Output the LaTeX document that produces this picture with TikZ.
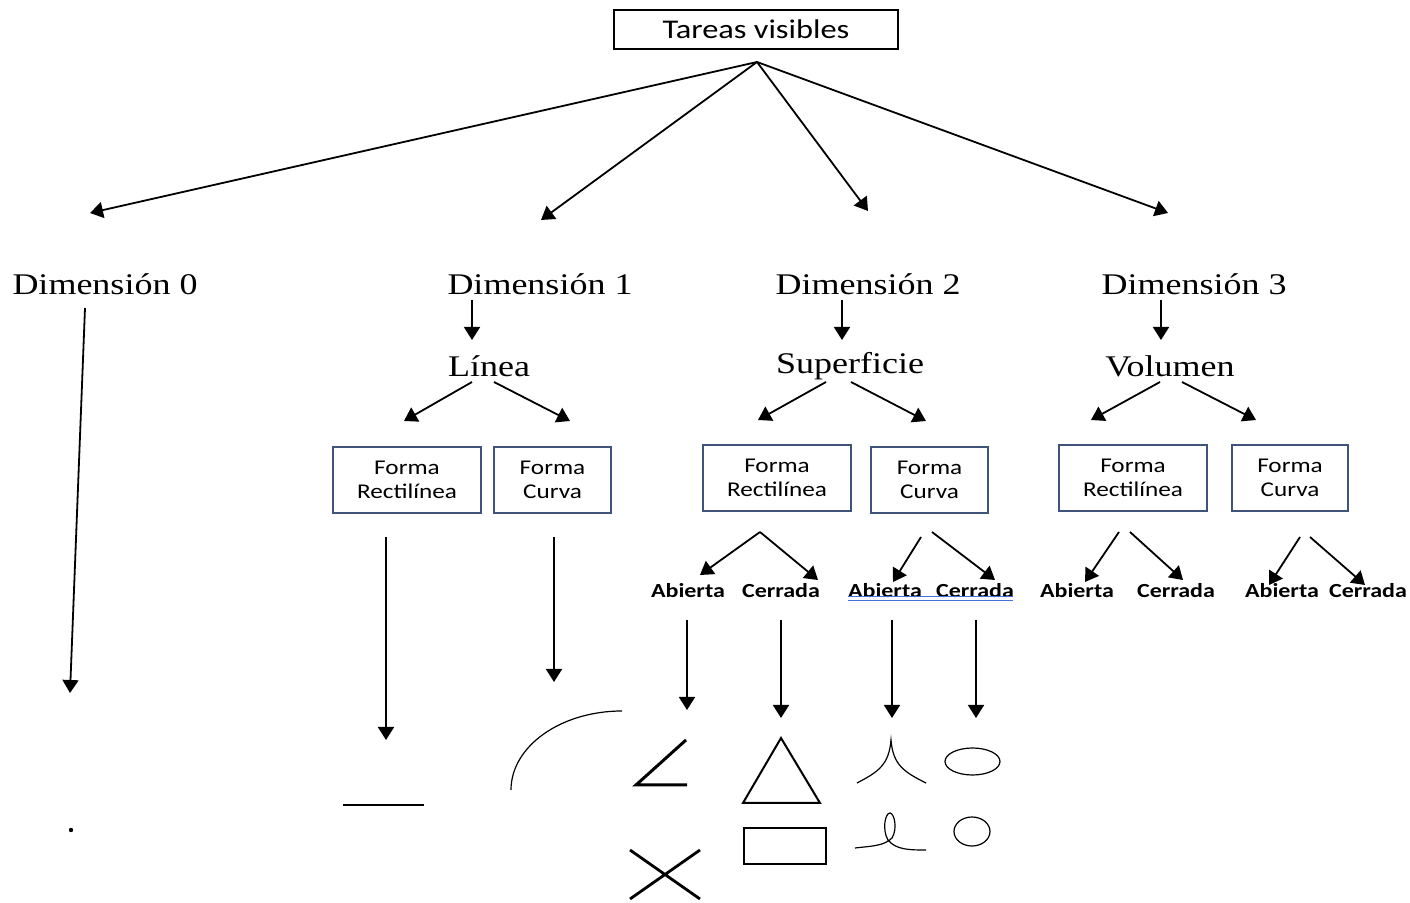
\documentclass[tikz,border=0pt]{standalone}
\usepackage{fontspec}
\setmainfont{Liberation Serif}[FakeStretch=1.2]
\newfontfamily\boxfont{Carlito}[FakeStretch=1.2]
\usepackage{tikz}
\usetikzlibrary{arrows.meta}
\definecolor{formnavy}{RGB}{62,84,122}
\definecolor{wordblue}{RGB}{66,110,222}

\begin{document}
\begin{tikzpicture}[x=0.5pt,y=-0.5pt,
  arr/.style={-{Triangle[length=6.5pt,width=8pt]},line width=0.9pt},
  dimlbl/.style={font=\fontsize{15}{18}\selectfont,inner sep=1pt},
  topbox/.style={draw,line width=0.8pt,minimum width=142pt,minimum height=19.5pt,font=\boxfont\fontsize{13.5}{16}\selectfont},
  formbox/.style={draw=formnavy,line width=0.8pt,align=center,minimum height=33pt,font=\boxfont\fontsize{10.5}{12}\selectfont},
  kindlbl/.style={font=\boxfont\bfseries\fontsize{10}{12}\selectfont,inner sep=1pt}]
\useasboundingbox (0,0) rectangle (1410,903);
\node[topbox] (tareas) at (756,29.5) {Tareas visibles};
\coordinate (apex) at (757,62);
\foreach \n/\x in {0/105,1/540,2/868,3/1194}
  \node[dimlbl] (dim\n) at (\x,284) {Dimensión \n};
\foreach \n/\x/\y in {0/90/213,1/541/220,2/868/211,3/1168/213}{
  \coordinate (fan\n) at (\x,\y);
  \draw[arr] (apex) -- (fan\n);}
\node[dimlbl] (linea) at (489,366) {Línea};
\node[dimlbl] (superficie) at (850,366) {Superficie};
\node[dimlbl] (volumen) at (1170,366) {Volumen};
\foreach \nm/\x/\y/\w/\t in {%
  lrect/407/480/74/{Forma\\Rectilínea},
  lcurv/552.5/480/58.5/{Forma\\Curva},
  srect/777/478/74/{Forma\\Rectilínea},
  scurv/929.5/480/58.5/{Forma\\Curva},
  vrect/1133/478/74/{Forma\\Rectilínea},
  vcurv/1290/478/58/{Forma\\Curva}}
  \node[formbox,minimum width=\w pt] (\nm) at (\x,\y) {\t};
\foreach \nm/\x/\t in {sabi/688/Abierta,scer/781/Cerrada,cabi/885/Abierta,ccer/975/Cerrada,
                       vabi/1077/Abierta,vcer/1176/Cerrada,wabi/1282/Abierta,wcer/1368/Cerrada}
  \node[kindlbl] (\nm) at (\x,591) {\t};
\draw[wordblue,line width=0.5pt] (848,597) -- (1013,597) (848,600.5) -- (1013,600.5);
\foreach \i/\s/\e in {%
  1/{85,308}/{70,693},
  2/{472,300}/{472,340}, 3/{842,300}/{842,340}, 4/{1161,300}/{1161,340},
  5/{472,382}/{404,421}, 6/{494,382}/{570,421},
  7/{826,382}/{758,420}, 8/{851,382}/{926,421},
  9/{1160,382}/{1091,420}, 10/{1182,382}/{1256,420},
  11/{386,537}/{386,740}, 12/{554,537}/{554,682},
  13/{760,532}/{700,575}, 14/{760,532}/{818,580},
  15/{921,537}/{893,582}, 16/{932,532}/{995,580},
  17/{1119,532}/{1085,582}, 18/{1130,532}/{1183,580},
  19/{1300,537}/{1269,585}, 20/{1310,537}/{1365,585},
  21/{687,620}/{687,710}, 22/{781,620}/{781,718},
  23/{892,620}/{892,718}, 24/{976,620}/{976,718}}{
  \coordinate (from\i) at (\s);
  \coordinate (to\i) at (\e);
  \draw[arr] (from\i) -- (to\i);}
\fill (71,830) circle (1.1pt);
\draw[line width=0.9pt] (343,805) -- (424,805);
\draw[line width=0.6pt] (511,790) arc[start angle=180,end angle=90,x radius=55.5pt,y radius=39.5pt];
\draw[line width=1.5pt,line join=miter] (686,740) -- (636,785) -- (687,785);
\draw[line width=1pt] (781,738) -- (820,803) -- (743,803) -- cycle;
\draw[line width=1.4pt] (630,850) -- (700,899) (630,899) -- (700,850);
\draw[line width=1pt] (744,828) rectangle (826,864);
\draw[line width=0.6pt] (857,783) .. controls (878,772) and (889,765) .. (891,740)
  .. controls (893,765) and (904,772) .. (926,783);
\draw[line width=0.6pt] (855,848) .. controls (872,846) and (884,846) .. (892,838)
  .. controls (898,828) and (894,813) .. (890,813) .. controls (885,813) and (882,830) .. (888,840)
  .. controls (896,850) and (910,850) .. (926,850);
\draw[line width=0.6pt] (972.5,761.5) ellipse [x radius=13.75pt,y radius=6.75pt];
\draw[line width=0.6pt] (972,831.5) ellipse [x radius=9pt,y radius=7.25pt];
\end{tikzpicture}
\end{document}
